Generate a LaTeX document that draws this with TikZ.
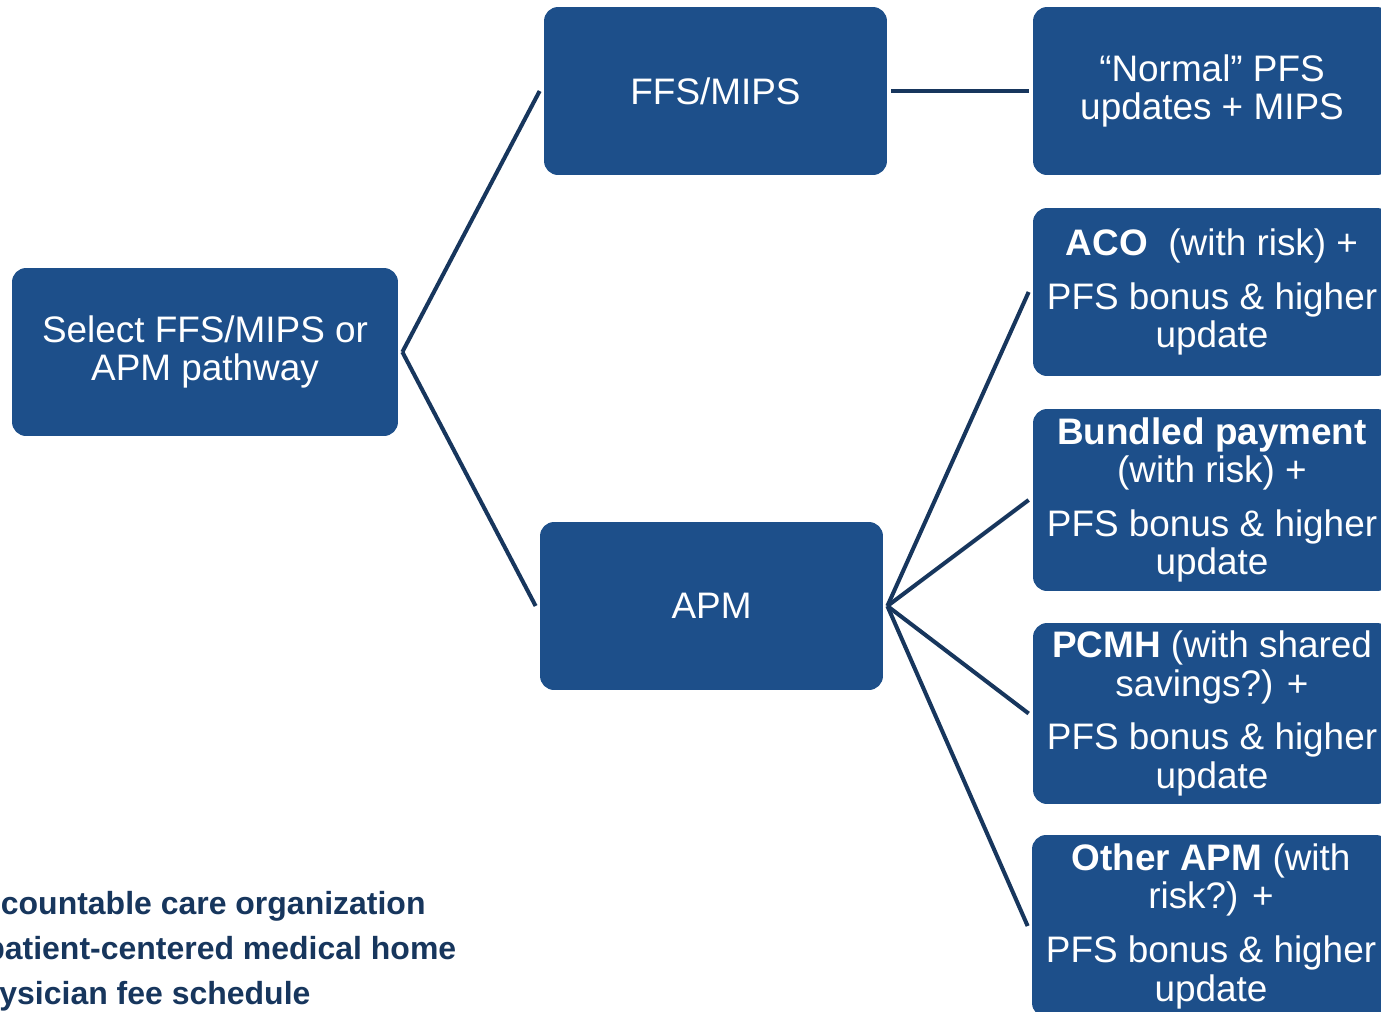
\documentclass[tikz,border=0pt]{standalone}
\usepackage{fontspec}
\setmainfont{Liberation Sans}
\definecolor{boxblue}{HTML}{1D4F8A}
\definecolor{navy}{HTML}{17365D}
\tikzset{
  pathbox/.style={rectangle, fill=boxblue, rounded corners=8pt, text=white,
    align=center, inner sep=0pt, outer xsep=2.5pt, minimum height=3.36cm,
    font=\fontsize{21}{22}\selectfont},
  choicebox/.style={pathbox, minimum width=7.16cm},
  branch/.style={draw=navy, line width=2.3pt},
  legend/.style={anchor=base west, inner sep=0pt, text=navy,
    font=\fontsize{18.2}{20}\selectfont\bfseries}
}
\begin{document}
\begin{tikzpicture}[x=0.02cm, y=-0.02cm]
\useasboundingbox (0,0) rectangle (1381,1011);
\clip (0,0) rectangle (1381,1011);
% decision
\node[pathbox, minimum width=7.72cm] (select) at (205,352) {Select FFS/MIPS or\\APM pathway};
\node[pathbox, minimum width=6.86cm] (ffs) at (715.5,91) {FFS/MIPS};
\node[pathbox, minimum width=6.86cm] (apm) at (711.5,606) {APM};
% outcomes
\node[choicebox] (normal) at (1212,91) {“Normal” PFS\\updates + MIPS};
\node[choicebox] (aco) at (1212,292) {\textbf{ACO}\ \ (with risk) +\\[8.5pt]PFS bonus \& higher\\update};
\node[choicebox, minimum height=3.64cm] (bundled) at (1212,500) {\textbf{Bundled payment}\\(with risk) +\\[8.5pt]PFS bonus \& higher\\update};
\node[choicebox, minimum height=3.62cm] (pcmh) at (1212,713.5) {\textbf{PCMH} (with shared\\savings?) +\\[8.5pt]PFS bonus \& higher\\update};
\node[choicebox, minimum height=3.64cm] (other) at (1211,926) {\textbf{Other APM} (with\\risk?) +\\[8.5pt]PFS bonus \& higher\\update};
\draw[branch] (select.east) -- (ffs.west);
\draw[branch] (select.east) -- (apm.west);
\draw[branch] (ffs.east) -- (normal.west);
\foreach \n in {aco,bundled,pcmh,other}
  \draw[branch] (apm.east) -- (\n.west);
% abbreviations
\node[legend] (acoterm) at (-35,914) {accountable care organization};
\node[legend] (pcmhterm) at (-15,959) {patient-centered medical home};
\node[legend] (pfsterm) at (-40,1004) {physician fee schedule};
\end{tikzpicture}
\end{document}
